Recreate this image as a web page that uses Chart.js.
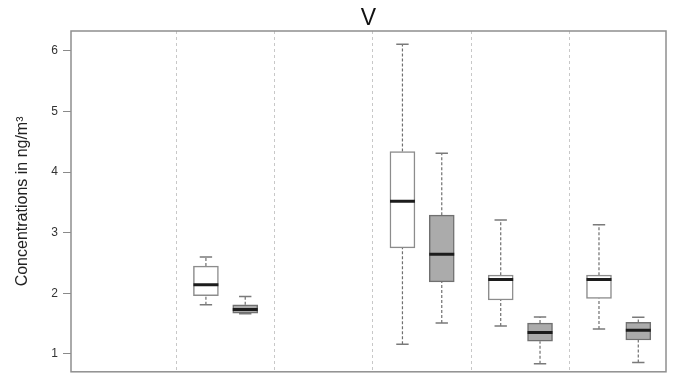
<!DOCTYPE html>
<html>
<head>
<meta charset="utf-8">
<script src="https://cdn.jsdelivr.net/npm/chart.js@4.4.1/dist/chart.umd.min.js"></script>
<style>
  html, body { margin: 0; padding: 0; background: #ffffff; }
  #wrap { width: 678px; height: 384px; }
</style>
</head>
<body>
<div id="wrap"><canvas id="c" width="678" height="384"></canvas></div>
<script>
// Six sampling groups; groups 1 and 3 have no data.
const groupPositions = [1, 2, 3, 4, 5, 6];
const dividerPositions = [1.5, 2.5, 3.5, 4.5, 5.5];
const yTickValues = [1, 2, 3, 4, 5, 6];

// White boxes (left box of each group)
const whiteGroups = [2, 4, 5, 6];
const whiteMin = [1.81, 1.16, 1.46, 1.41];
const whiteQ1  = [1.96, 2.75, 1.89, 1.915];
const whiteMed = [2.14, 3.52, 2.23, 2.23];
const whiteQ3  = [2.45, 4.34, 2.30, 2.30];
const whiteMax = [2.60, 6.11, 3.21, 3.13];

// Grey boxes (right box of each group)
const greyGroups = [2, 4, 5, 6];
const greyMin = [1.665, 1.51, 0.84, 0.86];
const greyQ1  = [1.675, 2.19, 1.21, 1.23];
const greyMed = [1.735, 2.645, 1.355, 1.39];
const greyQ3  = [1.81, 3.29, 1.51, 1.52];
const greyMax = [1.95, 4.31, 1.61, 1.605];

const BOX_OFFSET = 0.2;     // distance of each box from its group centre
const MEDIAN_HALF = 0.127;  // half box width in axis units
const CAP_HALF = 0.063;     // half whisker-cap width in axis units

const GAP = (x) => ({ x: x, y: null });

function boxData(groups, q1, q3, dx) {
  return groups.map((g, i) => ({ x: g + dx, y: [q1[i], q3[i]] }));
}
function whiskerData(groups, mn, q1, q3, mx, dx) {
  const pts = [];
  groups.forEach((g, i) => {
    const x = g + dx;
    pts.push({ x, y: mn[i] }, { x, y: q1[i] }, GAP(x));
    pts.push({ x, y: q3[i] }, { x, y: mx[i] }, GAP(x));
  });
  return pts;
}
function capData(groups, mn, mx, dx) {
  const pts = [];
  groups.forEach((g, i) => {
    const x = g + dx;
    pts.push({ x: x - CAP_HALF, y: mx[i] }, { x: x + CAP_HALF, y: mx[i] }, GAP(x));
    pts.push({ x: x - CAP_HALF, y: mn[i] }, { x: x + CAP_HALF, y: mn[i] }, GAP(x));
  });
  return pts;
}
function medianData(groups, med, dx) {
  const pts = [];
  groups.forEach((g, i) => {
    const x = g + dx;
    pts.push({ x: x - MEDIAN_HALF, y: med[i] }, { x: x + MEDIAN_HALF, y: med[i] }, GAP(x));
  });
  return pts;
}

const lineBase = { type: 'line', pointRadius: 0, pointHoverRadius: 0, fill: false, spanGaps: false, tension: 0 };

// Frame around the plotting region and the panel title.
const framePlugin = {
  id: 'frame',
  afterDraw(chart) {
    const { ctx, chartArea: a } = chart;
    ctx.save();
    ctx.strokeStyle = '#8f8f8f';
    ctx.lineWidth = 1.5;
    ctx.setLineDash([]);
    ctx.strokeRect(a.left, a.top, a.right - a.left, a.bottom - a.top);
    ctx.fillStyle = '#111111';
    ctx.font = '23px "Liberation Sans", Arial, sans-serif';
    ctx.textAlign = 'center';
    ctx.textBaseline = 'middle';
    ctx.fillText('V', (a.left + a.right) / 2, 19);
    ctx.restore();
  }
};

new Chart(document.getElementById('c'), {
  type: 'bar',
  data: {
    datasets: [
      Object.assign({}, lineBase, {
        data: medianData(whiteGroups, whiteMed, -BOX_OFFSET).concat(medianData(greyGroups, greyMed, BOX_OFFSET)),
        borderColor: '#1c1c1c', borderWidth: 3, order: 0
      }),
      {
        type: 'bar',
        data: boxData(whiteGroups, whiteQ1, whiteQ3, -BOX_OFFSET),
        backgroundColor: '#ffffff', borderColor: '#8c8c8c', borderWidth: 1.5,
        borderSkipped: false, barThickness: 25, grouped: false, order: 1
      },
      {
        type: 'bar',
        data: boxData(greyGroups, greyQ1, greyQ3, BOX_OFFSET),
        backgroundColor: '#ababab', borderColor: '#707070', borderWidth: 1.5,
        borderSkipped: false, barThickness: 25, grouped: false, order: 1
      },
      Object.assign({}, lineBase, {
        data: capData(whiteGroups, whiteMin, whiteMax, -BOX_OFFSET).concat(capData(greyGroups, greyMin, greyMax, BOX_OFFSET)),
        borderColor: '#7a7a7a', borderWidth: 1.5, order: 2
      }),
      Object.assign({}, lineBase, {
        data: whiskerData(whiteGroups, whiteMin, whiteQ1, whiteQ3, whiteMax, -BOX_OFFSET)
          .concat(whiskerData(greyGroups, greyMin, greyQ1, greyQ3, greyMax, BOX_OFFSET)),
        borderColor: '#6f6f6f', borderWidth: 1.2, borderDash: [3, 2], order: 3
      })
    ]
  },
  options: {
    responsive: false,
    animation: false,
    devicePixelRatio: 1,
    layout: { padding: { top: 31, right: 12, bottom: 9, left: 0 } },
    plugins: { legend: { display: false }, tooltip: { enabled: false }, title: { display: false } },
    scales: {
      x: {
        type: 'linear',
        min: 0.427, max: 6.482,
        offset: false,
        afterBuildTicks(scale) { scale.ticks = dividerPositions.map(v => ({ value: v })); },
        ticks: { display: false },
        grid: { display: true, offset: false, drawTicks: false, color: '#c8c8c8', lineWidth: 1 },
        border: { display: false, dash: [3, 3] }
      },
      y: {
        type: 'linear',
        min: 0.706, max: 6.327,
        afterBuildTicks(scale) { scale.ticks = yTickValues.map(v => ({ value: v })); },
        afterFit(scale) { scale.width = 71; },
        ticks: {
          color: '#333333', padding: 5,
          font: { family: '"Liberation Sans", Arial, sans-serif', size: 12 }
        },
        grid: { display: true, drawOnChartArea: false, drawTicks: true, tickLength: 8, color: '#8a8a8a', lineWidth: 1 },
        border: { display: false },
        title: {
          display: true, text: 'Concentrations in ng/m³', color: '#222222',
          font: { family: '"Liberation Sans", Arial, sans-serif', size: 16 },
          padding: { top: 13, bottom: 0 }
        }
      }
    }
  },
  plugins: [framePlugin]
});
</script>
</body>
</html>
